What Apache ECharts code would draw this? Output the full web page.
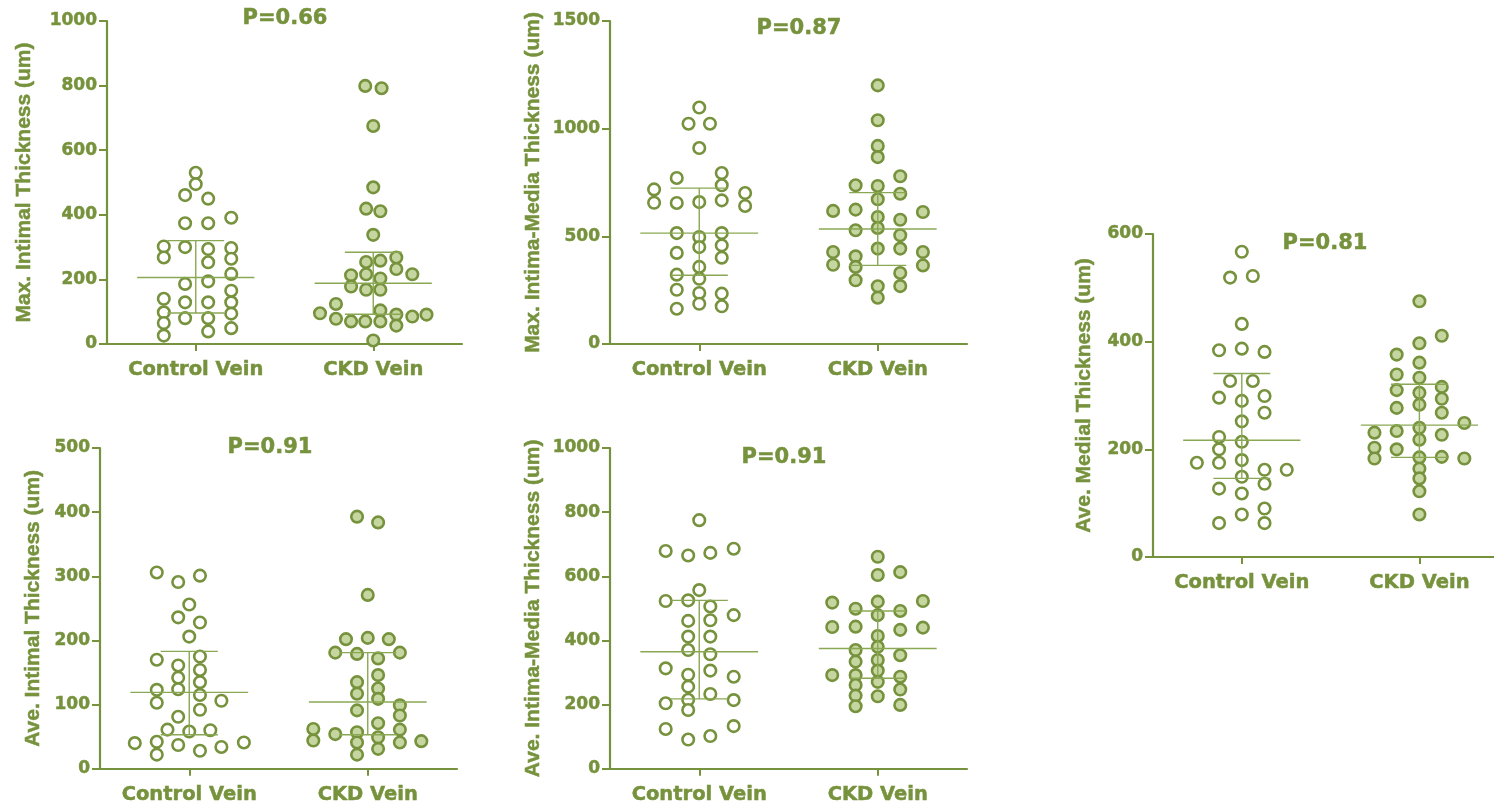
<!DOCTYPE html>
<html><head><meta charset="utf-8">
<script src="https://cdn.jsdelivr.net/npm/echarts@6/dist/echarts.min.js"></script>
<style>html,body{margin:0;padding:0;background:#fff}#c{width:1494px;height:805px}</style>
</head><body><div id="c"></div>
<script>
// ---------- DATA ----------
const categories = ['Control Vein', 'CKD Vein'];
const groupPos = [1, 2];

// Max. Intimal Thickness
const maxIntimalCtrlY = [530,495,461,450,391,374,374,302,300,294,297,268,253,264,217,186,194,165,140,129,129,129,98,94,80,80,65,39,49,26];
const maxIntimalCtrlX = [1.0,1.0,0.94,1.07,1.20,0.94,1.07,0.82,0.94,1.07,1.20,0.82,1.07,1.20,1.20,0.94,1.07,1.20,0.82,0.94,1.07,1.20,0.82,1.20,0.94,1.07,0.82,1.07,1.20,0.82];
const maxIntimalCkdY = [799,792,675,485,419,411,338,254,258,268,232,213,216,203,216,178,168,168,124,104,95,91,85,91,78,70,70,70,57,11];
const maxIntimalCkdX = [1.955,2.047,2.0,2.0,1.96,2.04,2.0,1.96,2.04,2.13,2.13,1.875,1.96,2.04,2.22,1.875,1.96,2.04,1.79,2.04,1.70,2.13,2.22,2.30,1.79,1.875,1.955,2.04,2.13,2.0];
const maxIntimalBars = [[206,96,320],[188,92,284]]; // mean, low, high

// Max. Intima-Media Thickness
const maxIMTCtrlY = [1098,1023,1023,910,771,794,737,718,701,656,655,659,667,641,515,515,497,450,458,423,401,358,322,303,252,237,234,187,175,164];
const maxIMTCtrlX = [1.0,0.94,1.06,1.0,0.874,1.126,1.126,0.747,1.257,0.747,0.874,1.0,1.126,1.257,0.874,1.126,1.0,1.0,1.126,0.874,1.126,1.0,0.874,1.0,0.874,1.0,1.126,1.0,1.126,0.874];
const maxIMTCkdY = [1201,1039,920,868,779,737,734,698,672,618,624,613,590,577,528,539,505,427,407,443,443,427,368,358,365,330,296,268,269,215];
const maxIMTCkdX = [2.0,2.0,2.0,2.0,2.126,1.876,2.0,2.126,2.0,1.75,1.876,2.253,2.0,2.126,1.876,2.0,2.126,1.75,1.876,2.0,2.126,2.253,1.75,1.876,2.253,2.126,1.876,2.0,2.126,2.0];
const maxIMTBars = [[515,319,724],[534,365,703]];

// Ave. Intimal Thickness
const aveIntimalCtrlY = [306,291,301,256,236,228,206,170,175,161,154,142,135,123,124,115,103,106,92,81,61,58,60,40,42,37,41,34,28,22];
const aveIntimalCtrlX = [0.818,0.938,1.06,1.0,0.938,1.06,1.0,0.818,1.06,0.938,1.06,0.938,1.06,0.818,0.938,1.06,0.818,1.18,1.06,0.938,0.878,1.0,1.118,0.695,0.818,0.938,1.306,1.18,1.06,0.818];
const aveIntimalCkdY = [393,384,271,202,204,202,181,179,172,181,146,135,125,117,109,99,91,83,71,62,61,54,57,49,44,41,41,43,31,22];
const aveIntimalCkdX = [1.94,2.058,2.0,1.878,2.0,2.118,1.818,1.94,2.058,2.18,2.058,1.94,2.058,1.94,2.058,2.18,1.94,2.18,2.058,1.695,2.18,1.818,1.94,2.058,1.695,1.94,2.18,2.30,2.058,1.94];
const aveIntimalBars = [[119,53,183],[104,53,181]];

// Ave. Intima-Media Thickness
const aveIMTCtrlY = [775,679,665,673,686,557,523,525,506,479,461,463,412,412,370,357,313,293,306,287,256,233,215,214,204,183,124,133,102,91];
const aveIMTCtrlX = [1.0,0.812,0.938,1.062,1.193,1.0,0.812,0.938,1.062,1.193,0.938,1.062,0.938,1.062,0.938,1.062,0.812,0.938,1.062,1.193,0.938,1.062,0.938,1.193,0.812,0.938,0.812,1.193,1.062,0.938];
const aveIMTCkdY = [661,604,613,518,499,521,492,523,479,442,443,433,440,414,380,370,354,334,339,306,292,292,287,271,261,247,228,226,195,199];
const aveIMTCkdX = [2.0,2.0,2.126,1.745,1.876,2.0,2.126,2.253,2.0,1.745,1.876,2.126,2.253,2.0,2.0,1.876,2.126,1.876,2.0,2.0,1.745,1.876,2.126,2.0,1.876,2.126,1.876,2.0,1.876,2.126];
const aveIMTBars = [[365,218,525],[375,282,492]];

// Ave. Medial Thickness
const aveMedialCtrlY = [567,519,522,433,384,387,381,327,327,296,299,290,268,252,223,214,200,175,175,180,162,162,149,136,127,118,90,79,63,63];
const aveMedialCtrlX = [1.0,0.934,1.062,1.0,0.872,1.0,1.128,0.934,1.062,0.872,1.128,1.0,1.128,1.0,0.872,1.0,0.872,0.747,0.872,1.0,1.128,1.253,1.0,1.128,0.872,1.0,1.128,1.0,0.872,1.128];
const aveMedialCkdY = [475,411,397,376,361,339,333,316,310,305,294,277,283,268,249,240,231,234,227,218,203,200,183,185,186,183,164,146,122,79];
const aveMedialCkdX = [2.0,2.126,2.0,1.872,2.0,1.872,2.0,2.126,1.872,2.0,2.126,1.872,2.0,2.126,2.253,2.0,1.747,1.872,2.126,2.0,1.747,1.872,1.747,2.0,2.126,2.253,2.0,2.0,2.0,2.0];
const aveMedialBars = [[217,146,341],[245,185,321]];

const pValues = ['P=0.66', 'P=0.87', 'P=0.91', 'P=0.91', 'P=0.81'];
const yNames = ['Max. Intimal Thickness (um)', 'Max. Intima-Media Thickness (um)', 'Ave. Intimal Thickness (um)', 'Ave. Intima-Media Thickness (um)', 'Ave. Medial Thickness (um)'];
const yMaxes = [1000, 1500, 500, 1000, 600];
const yIntervals = [200, 500, 100, 200, 200];

// ---------- LAYOUT / STYLE ----------
const GREEN = '#76923c';
const FILL = '#c5d6a0';
const BARLINE = '#8aa853';
const FONT = 'DejaVu Sans';
const NAMEFONT = 'Liberation Sans';

const panels = [
  {data: [maxIntimalCtrlX, maxIntimalCtrlY, maxIntimalCkdX, maxIntimalCkdY], bars: maxIntimalBars,
   grid: {left: 107, top: 21, width: 355, height: 323}, xMax: 2.5, nameGap: 72, title: [280, 3]},
  {data: [maxIMTCtrlX, maxIMTCtrlY, maxIMTCkdX, maxIMTCkdY], bars: maxIMTBars,
   grid: {left: 610, top: 21, width: 357, height: 323}, xMax: 2.5, nameGap: 66, title: [794, 13]},
  {data: [aveIntimalCtrlX, aveIntimalCtrlY, aveIntimalCkdX, aveIntimalCkdY], bars: aveIntimalBars,
   grid: {left: 100, top: 448, width: 357, height: 322}, xMax: 2.5, nameGap: 56, title: [265, 432]},
  {data: [aveIMTCtrlX, aveIMTCtrlY, aveIMTCkdX, aveIMTCkdY], bars: aveIMTBars,
   grid: {left: 610, top: 448, width: 357, height: 322}, xMax: 2.5, nameGap: 66, title: [779, 442]},
  {data: [aveMedialCtrlX, aveMedialCtrlY, aveMedialCkdX, aveMedialCkdY], bars: aveMedialBars,
   grid: {left: 1153, top: 234, width: 341, height: 323}, xMax: 2.42, nameGap: 58, title: [1320, 228]}
];

const zip = (xs, ys) => xs.map((x, i) => [x, ys[i]]);
const heavy = {textBorderColor: GREEN, textBorderWidth: 0.5};

const option = {
  animation: false,
  backgroundColor: '#fff',
  textStyle: {fontFamily: FONT, fontWeight: 'bold', color: GREEN},
  title: [], grid: [], xAxis: [], yAxis: [], series: []
};

panels.forEach((p, i) => {
  option.title.push({
    text: pValues[i], left: p.title[0], top: p.title[1], textAlign: 'center',
    textStyle: Object.assign({fontFamily: FONT, fontWeight: 'bold', fontSize: 21, color: GREEN}, heavy)
  });
  option.grid.push(Object.assign({containLabel: false}, p.grid));
  option.xAxis.push({
    type: 'value', gridIndex: i, min: 0.5, max: p.xMax,
    axisLine: {show: true, onZero: false, lineStyle: {color: GREEN, width: 2.2}},
    axisTick: {show: true, customValues: groupPos, length: 7, lineStyle: {color: GREEN, width: 2}},
    axisLabel: Object.assign({show: true, customValues: groupPos, margin: 16,
      formatter: v => categories[groupPos.indexOf(v)] || '',
      fontFamily: FONT, fontWeight: 'bold', fontSize: 19.5, color: GREEN}, heavy),
    splitLine: {show: false}
  });
  option.yAxis.push({
    type: 'value', gridIndex: i, min: 0, max: yMaxes[i], interval: yIntervals[i],
    name: yNames[i], nameLocation: 'middle', nameGap: p.nameGap,
    nameTextStyle: Object.assign({fontFamily: NAMEFONT, fontWeight: 'bold', fontSize: 21, color: GREEN}, heavy),
    axisLine: {show: true, onZero: false, lineStyle: {color: GREEN, width: 2.2}},
    axisTick: {show: true, length: 8, lineStyle: {color: GREEN, width: 2}},
    axisLabel: Object.assign({margin: 10, formatter: v => String(v),
      fontFamily: FONT, fontWeight: 'bold', fontSize: 17, color: GREEN}, heavy),
    splitLine: {show: false}
  });
  const [cx, cy, kx, ky] = p.data;
  option.series.push({
    type: 'scatter', xAxisIndex: i, yAxisIndex: i, name: categories[0],
    data: zip(cx, cy), symbol: 'circle', symbolSize: 11.5, z: 2,
    itemStyle: {color: '#ffffff', borderColor: GREEN, borderWidth: 2.6, opacity: 1}
  });
  option.series.push({
    type: 'scatter', xAxisIndex: i, yAxisIndex: i, name: categories[1],
    data: zip(kx, ky), symbol: 'circle', symbolSize: 11.5, z: 2,
    itemStyle: {color: FILL, borderColor: GREEN, borderWidth: 2.6, opacity: 1}
  });
  option.series.push({
    type: 'custom', xAxisIndex: i, yAxisIndex: i, z: 5, clip: false,
    encode: {x: 0, y: [1, 2, 3]},
    data: p.bars.map((b, j) => [groupPos[j], b[0], b[1], b[2]]),
    renderItem: (params, api) => {
      const x = api.value(0), m = api.value(1), lo = api.value(2), hi = api.value(3);
      const style = {stroke: BARLINE, lineWidth: 1.4};
      const seg = (a, b) => {
        const p1 = api.coord(a), p2 = api.coord(b);
        return {type: 'line', shape: {x1: p1[0], y1: p1[1], x2: p2[0], y2: p2[1]}, style};
      };
      return {type: 'group', children: [
        seg([x - 0.33, m], [x + 0.33, m]),
        seg([x, lo], [x, hi]),
        seg([x - 0.16, lo], [x + 0.16, lo]),
        seg([x - 0.16, hi], [x + 0.16, hi])
      ]};
    }
  });
});

const chart = echarts.init(document.getElementById('c'), null, {renderer: 'canvas'});
chart.setOption(option);
</script>
</body></html>
